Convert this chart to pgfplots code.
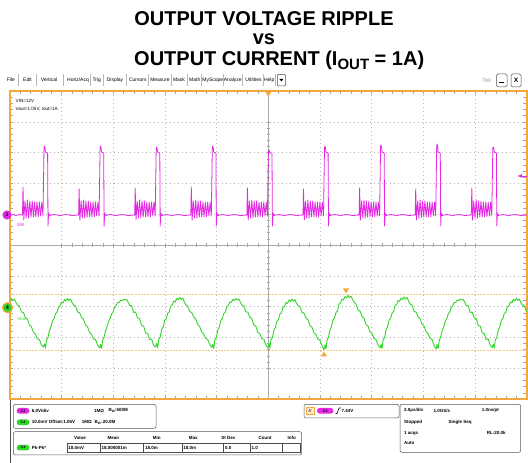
\documentclass[border=0pt]{standalone}
\usepackage{pgfplots}
\pgfplotsset{compat=1.18}
\usepackage{fontspec}
\setmainfont{Liberation Sans}
\definecolor{scmag}{RGB}{228,40,228}
\definecolor{scgrn}{RGB}{50,214,40}
\definecolor{scorg}{RGB}{242,168,60}
\definecolor{sccur}{RGB}{250,198,120}
\definecolor{scgray}{RGB}{150,150,150}
\newcommand{\scopefont}{\fontsize{5}{6}\selectfont}
\newcommand{\ttlfont}{\bfseries\fontsize{20}{22}\selectfont}
\begin{document}
\begin{tikzpicture}
\useasboundingbox (0,0) rectangle (528pt,463pt);
\fill[white] (0,0) rectangle (528pt,463pt);
% centre cross
\begin{axis}[at={(9.8pt,64pt)}, anchor=south west, width=517pt, height=308pt, scale only axis,
 xmin=-5,xmax=5,ymin=-5,ymax=5, axis lines=middle, axis line style={-, scgray!85, line width=0.5pt},
 xtick={-4,...,4}, ytick={-4,...,4}, minor x tick num=4, minor y tick num=4,
 xticklabels={}, yticklabels={}, tick align=center, major tick length=4.5pt, minor tick length=3.5pt,
 tick style={scgray!85, line width=0.5pt}]
\end{axis}
\begin{axis}[at={(9.8pt,64pt)}, anchor=south west, width=517pt, height=308pt, scale only axis,
 xmin=9.8, xmax=526.8, ymin=91, ymax=399, y dir=reverse,
 xtick={9.8,61.5,113.2,164.9,216.6,268.3,320,371.7,423.4,475.1,526.8},
 ytick={91,121.8,152.6,183.4,214.2,245,275.8,306.6,337.4,368.2,399},
 xticklabels={}, yticklabels={},
 minor x tick num=4, minor y tick num=4,
 xmajorgrids, ymajorgrids, major grid style={scgray!70, line width=0.5pt, dash pattern=on 0.6pt off 3.4pt},
 tick align=inside, major tick length=3.5pt, minor tick length=3.5pt, tick style={scgray!85, line width=0.45pt},
 axis line style={scorg, line width=1.6pt}, clip=true]
\addplot[sccur, line width=0.8pt, dash pattern=on 2pt off 1.2pt] coordinates {(9.8,294.3) (526.8,294.3)};
\addplot[sccur, line width=0.8pt, dash pattern=on 2pt off 1.2pt] coordinates {(9.8,350.3) (526.8,350.3)};
% Vout ripple (C4)
\addplot[scgrn, line width=0.9pt, line join=round] coordinates {
(10,300) (11.4,298.5) (12.9,300.5) (14.4,299) (15.9,302.5) (17.4,305) (19.4,306) (21.4,312) (23.4,312.5) (25.4,317.5) (27.4,319) (29.4,325) (31.4,326.5) (33.4,332.5) (35.4,334) (37.4,339) (39.4,339.5) (41.4,345)
(43.5,347) (44.5,344) (45.5,348) (46.5,340) (48,337.5) (49.5,330) (51,327) (52.5,320.5) (54,319) (55.5,313.5) (57,312.5) (58.5,307) (60,306) (61.5,302) (63,303) (64.5,299.5) (66,301) (67.5,298.5) (69,300.5) (70.5,299) (72,302.5) (73.5,305) (75.5,306) (77.5,312) (79.5,312.5) (81.5,317.5) (83.5,319) (85.5,325) (87.5,326.5) (89.5,332.5) (91.5,334) (93.5,339) (95.5,339.5) (97.5,345)
(99.6,348) (100.6,344.5) (101.6,348.5) (102.6,340.5) (104.1,337) (105.6,330.5) (107.1,326.5) (108.6,321.5) (110.1,318.5) (111.6,314) (113.1,312) (114.6,307.5) (116.1,305.5) (117.6,302.5) (119.1,302.5) (120.6,300.5) (122.1,300.5) (123.6,299.5) (125.1,300) (126.6,299.5) (128.1,302) (129.6,305.5) (131.6,305.5) (133.6,312.5) (135.6,312) (137.6,318) (139.6,318.5) (141.6,325.5) (143.6,326) (145.6,333) (147.6,333.5) (149.6,339.5) (151.6,339) (153.6,345.5)
(155.7,347) (156.7,343.5) (157.7,347.5) (158.7,339.5) (160.2,337) (161.7,329.5) (163.2,327) (164.7,320) (166.2,319) (167.7,313) (169.2,312) (170.7,306) (172.2,305) (173.7,301) (175.2,302) (176.7,298.5) (178.2,300) (179.7,297.5) (181.2,299.5) (182.7,298) (184.2,301.5) (185.7,304.5) (187.7,306) (189.7,311.5) (191.7,312.5) (193.7,317) (195.7,319) (197.7,324.5) (199.7,326.5) (201.7,332) (203.7,334) (205.7,338.5) (207.7,339.5) (209.7,344.5)
(211.8,347.5) (212.8,344) (213.8,348.5) (214.8,340) (216.3,337.5) (217.8,330) (219.3,327) (220.8,320.5) (222.3,318.5) (223.8,313.5) (225.3,312) (226.8,307) (228.3,305.5) (229.8,302) (231.3,302.5) (232.8,299.5) (234.3,300.5) (235.8,298.5) (237.3,300) (238.8,299) (240.3,302) (241.8,305) (243.8,305.5) (245.8,312) (247.8,312) (249.8,317.5) (251.8,318.5) (253.8,325) (255.8,326) (257.8,332.5) (259.8,333.5) (261.8,339) (263.8,339) (265.8,345)
(267.9,347.5) (268.9,344) (269.9,348) (270.9,340) (272.4,337.5) (273.9,330.5) (275.4,327.5) (276.9,321) (278.4,319.5) (279.9,314) (281.4,313) (282.9,307.5) (284.4,306.5) (285.9,302.5) (287.4,303.5) (288.9,300) (290.4,301.5) (291.9,299) (293.4,301) (294.9,299.5) (296.4,303) (297.9,305.5) (299.9,306.5) (301.9,312.5) (303.9,313) (305.9,318) (307.9,319.5) (309.9,325.5) (311.9,327) (313.9,333) (315.9,334.5) (317.9,339.5) (319.9,340) (321.9,345.5)
(324,349.5) (325,345) (326,349) (327,340.5) (328.5,337) (330,330) (331.5,326.5) (333,320) (334.5,318) (336,312.5) (337.5,311) (339,304) (340.5,303) (342,299) (343.5,300) (345,296.5) (346.5,298) (348,295.5) (349.5,297.5) (351,296) (352.5,299.5) (354,302) (356,304) (358,310) (360,311) (362,316.5) (364,318) (366,324.5) (368,326) (370,332) (372,333.5) (374,338.5) (376,339.5) (378,345)
(380.1,348) (381.1,344.5) (382.1,348.5) (383.1,340) (384.6,337.5) (386.1,330) (387.6,326.5) (389.1,320) (390.6,318.5) (392.1,313) (393.6,311.5) (395.1,305.5) (396.6,304.5) (398.1,300.5) (399.6,301.5) (401.1,298) (402.6,299.5) (404.1,297) (405.6,299) (407.1,297.5) (408.6,301) (410.1,304) (412.1,305) (414.1,311.5) (416.1,312) (418.1,317) (420.1,318.5) (422.1,324.5) (424.1,326) (426.1,332) (428.1,333.5) (430.1,338.5) (432.1,339.5) (434.1,345.5)
(436.2,349) (437.2,344.5) (438.2,348.5) (439.2,340.5) (440.7,337) (442.2,330.5) (443.7,327) (445.2,321) (446.7,319) (448.2,314) (449.7,312) (451.2,307.5) (452.7,305.5) (454.2,302.5) (455.7,302.5) (457.2,300) (458.7,300.5) (460.2,299) (461.7,300) (463.2,299.5) (464.7,302) (466.2,305.5) (468.2,305.5) (470.2,312.5) (472.2,312) (474.2,318) (476.2,318.5) (478.2,325.5) (480.2,326) (482.2,333) (484.2,333.5) (486.2,339.5) (488.2,339) (490.2,345.5)
(492.3,347.5) (493.3,344) (494.3,348) (495.3,340) (496.8,337.5) (498.3,330) (499.8,327) (501.3,320.5) (502.8,319) (504.3,313.5) (505.8,312.5) (507.3,307) (508.8,306) (510.3,302) (511.8,303) (513.3,299.5) (514.8,301) (516.3,298.5) (517.8,300.5) (519.3,299) (520.8,302.5) (522.3,305) (524.3,306) (526.3,311) (527,311.5)
};
% switch node (C3)
\addplot[scmag, line width=0.8pt, line join=round] coordinates {
(10,215) (13,214.5) (16,215.5) (19,214.6) (22.5,215)
(23.0,187) (23.8,220) (25.0,201) (26.2,218) (27.4,200) (28.6,218) (29.8,201) (31.0,217) (32.2,201) (33.4,217) (34.6,202) (35.8,217) (37.0,202) (38.2,217) (39.4,202) (40.6,216) (41.8,202) (43.0,216) (44.0,148) (44.4,146) (45.0,148) (45.4,152) (47.6,153) (48.0,226) (48.6,213) (49.6,215.5) (54,214.5) (60,215.5) (66,214.5) (72,215.5)
(78.6,215) (79.1,189) (79.9,220) (81.1,201) (82.3,218) (83.5,200) (84.7,218) (85.9,201) (87.1,217) (88.3,201) (89.5,217) (90.7,202) (91.9,217) (93.1,202) (94.3,217) (95.5,202) (96.7,216) (97.9,202) (99.1,216) (100.1,148) (100.5,146) (101.1,148) (101.5,152) (103.7,153) (104.1,226) (104.7,213) (105.7,215.5) (110.1,214.5) (116.1,215.5) (122.1,214.5) (128.1,215.5)
(134.7,215) (135.2,188) (136.0,220) (137.2,201) (138.4,218) (139.6,200) (140.8,218) (142.0,201) (143.2,217) (144.4,201) (145.6,217) (146.8,202) (148.0,217) (149.2,202) (150.4,217) (151.6,202) (152.8,216) (154.0,202) (155.2,216) (156.2,149) (156.6,147) (157.2,149) (157.6,152) (159.8,153) (160.2,226) (160.8,213) (161.8,215.5) (166.2,214.5) (172.2,215.5) (178.2,214.5) (184.2,215.5)
(190.8,215) (191.3,187) (192.1,220) (193.3,201) (194.5,218) (195.7,200) (196.9,218) (198.1,201) (199.3,217) (200.5,201) (201.7,217) (202.9,202) (204.1,217) (205.3,202) (206.5,217) (207.7,202) (208.9,216) (210.1,202) (211.3,216) (212.3,148) (212.7,146) (213.3,148) (213.7,152) (215.9,153) (216.3,226) (216.9,213) (217.9,215.5) (222.3,214.5) (228.3,215.5) (234.3,214.5) (240.3,215.5)
(246.9,215) (247.4,188) (248.2,220) (249.4,201) (250.6,218) (251.8,200) (253.0,218) (254.2,201) (255.4,217) (256.6,201) (257.8,217) (259.0,202) (260.2,217) (261.4,202) (262.6,217) (263.8,202) (265.0,216) (266.2,202) (267.4,216) (268.4,151) (268.8,150) (269.4,151) (269.8,153) (272.0,153) (272.4,226) (273.0,213) (274.0,215.5) (278.4,214.5) (284.4,215.5) (290.4,214.5) (296.4,215.5)
(303.0,215) (303.5,189) (304.3,220) (305.5,201) (306.7,218) (307.9,200) (309.1,218) (310.3,201) (311.5,217) (312.7,201) (313.9,217) (315.1,202) (316.3,217) (317.5,202) (318.7,217) (319.9,202) (321.1,216) (322.3,202) (323.5,216) (324.5,148) (324.9,146) (325.5,148) (325.9,152) (328.1,153) (328.5,226) (329.1,213) (330.1,215.5) (334.5,214.5) (340.5,215.5) (346.5,214.5) (352.5,215.5)
(359.1,215) (359.6,188) (360.4,220) (361.6,201) (362.8,218) (364.0,200) (365.2,218) (366.4,201) (367.6,217) (368.8,201) (370.0,217) (371.2,202) (372.4,217) (373.6,202) (374.8,217) (376.0,202) (377.2,216) (378.4,202) (379.6,216) (380.6,146) (381.0,145) (381.6,147) (382.0,152) (384.2,153) (384.6,226) (385.2,213) (386.2,215.5) (390.6,214.5) (396.6,215.5) (402.6,214.5) (408.6,215.5)
(415.2,215) (415.7,189) (416.5,220) (417.7,201) (418.9,218) (420.1,200) (421.3,218) (422.5,201) (423.7,217) (424.9,201) (426.1,217) (427.3,202) (428.5,217) (429.7,202) (430.9,217) (432.1,202) (433.3,216) (434.5,202) (435.7,216) (436.7,146) (437.1,144) (437.7,146) (438.1,152) (440.3,153) (440.7,226) (441.3,213) (442.3,215.5) (446.7,214.5) (452.7,215.5) (458.7,214.5) (464.7,215.5)
(471.3,215) (471.8,188) (472.6,220) (473.8,201) (475.0,218) (476.2,200) (477.4,218) (478.6,201) (479.8,217) (481.0,201) (482.2,217) (483.4,202) (484.6,217) (485.8,202) (487.0,217) (488.2,202) (489.4,216) (490.6,202) (491.8,216) (492.8,148) (493.2,147) (493.8,148) (494.2,152) (496.4,153) (496.8,226) (497.4,213) (498.4,215.5) (502.8,214.5) (508.8,215.5) (514.8,214.5) (520.8,215.5) (527,215)
};
\end{axis}
\begin{scope}[x=1pt,y=-1pt,yshift=463pt]
% title
\node[font=\ttlfont, anchor=base, inner sep=0pt] at (264,26) {OUTPUT VOLTAGE RIPPLE};
\node[font=\ttlfont, anchor=base, inner sep=0pt] at (264,44.5) {vs};
\node[font=\ttlfont, anchor=base west, inner sep=0pt] at (134,65.5) {OUTPUT CURRENT (I\raisebox{-4pt}{\fontsize{15}{16}\selectfont OUT} = 1A)};
% menu bar
\begin{scope}[every node/.style={font=\scopefont, inner sep=0pt}]
\node at (10.8,80) {File};
\node at (27.5,80) {Edit};
\node at (49,80) {Vertical};
\node at (78,80) {Horiz/Acq};
\node at (96.8,80) {Trig};
\node at (115,80) {Display};
\node at (137.8,80) {Cursors};
\node at (160,80) {Measure};
\node at (179,80) {Mask};
\node at (194.8,80) {Math};
\node at (212.8,80) {MyScope};
\node at (232.8,80) {Analyze};
\node at (253.5,80) {Utilities};
\node at (269.2,80) {Help};
\node[text=gray!70] at (486.7,80.5) {\fontsize{6}{7}\selectfont Tek};
\end{scope}
\foreach \xx in {18.3,36.7,63.3,90,103.3,126.7,148.3,171,187.3,201.7,223.3,242.7,263.3,275.5}
  \draw[gray!55, line width=0.5pt] (\xx,74.5)--(\xx,86);
\draw[gray!60!black, line width=0.5pt, rounded corners=1pt] (277.3,74.5) rectangle (285.5,86);
\fill (279.3,78.8)--(283.5,78.8)--(281.4,81.4)--cycle;
\draw[gray!60!black, line width=0.5pt, rounded corners=1.5pt] (496.5,74) rectangle (507,87);
\draw[line width=0.9pt] (499.3,82.5)--(504.2,82.5);
\draw[gray!60!black, line width=0.5pt, rounded corners=1.5pt] (511,74) rectangle (521,87);
\node[font=\bfseries\fontsize{6.5}{7}\selectfont, inner sep=0pt] at (516,80.5) {X};
% annotations inside graticule
\node[anchor=west, font=\fontsize{4.6}{5}\selectfont, inner sep=0pt] at (15.5,100.7) {VIN=12V};
\node[anchor=west, font=\fontsize{4.6}{5}\selectfont, inner sep=0pt] at (15.5,108.7) {Vout=1.05V, Iout=1A};
\fill[scorg] (265,91.5)--(271.6,91.5)--(268.3,96.5)--cycle;
\fill[scorg] (343,288.5)--(349,288.5)--(346,293.5)--cycle;
\fill[scorg] (321,356.5)--(327,356.5)--(324,351.5)--cycle;
\draw[scmag, line width=0.8pt, -latex] (527,176)--(517,176);
\fill[scmag] (7,215) circle (4.6);
\node[font=\bfseries\fontsize{5}{5}\selectfont, text=black!70!blue, inner sep=0pt] at (7,215) {3};
\filldraw[fill=scgrn, draw=scorg, line width=1.1pt] (7.5,307.7) circle (5);
\node[font=\bfseries\fontsize{5.5}{5}\selectfont, inner sep=0pt] at (7.5,307.7) {4};
\node[scmag, font=\fontsize{4.5}{5}\selectfont, inner sep=0pt] at (20.5,224.8) {SW};
\node[scgrn, font=\fontsize{4.5}{5}\selectfont, inner sep=0pt] at (22,318.5) {Vout};
% bottom frame
\draw[gray!60!black, line width=0.8pt] (10.5,400.5)--(10.5,463);
% panel boxes
\begin{scope}[every node/.style={font=\bfseries\fontsize{4.5}{5}\selectfont, inner sep=0pt, anchor=west}]
\draw[gray!70!black, line width=0.5pt, rounded corners=2pt] (13.3,404.3) rectangle (156,428.3);
\fill[scmag, rounded corners=2.6pt] (16.7,408) rectangle (29.3,413.6);
\node[anchor=center, font=\bfseries\fontsize{3.6}{4}\selectfont] at (23,410.8) {C3};
\node at (31.7,410.8) {6.0V/div};
\node at (94,410.8) {1MΩ};
\node at (108.3,410.8) {B\textsubscript{W}:500M};
\fill[scgrn, rounded corners=2.6pt] (16.7,419.5) rectangle (29.3,425.1);
\node[anchor=center, font=\bfseries\fontsize{3.6}{4}\selectfont] at (23,422.3) {C4};
\node at (31.7,422.3) {10.0mV Offset:1.05V};
\node at (81.7,422.3) {1MΩ};
\node at (94.5,422.3) {B\textsubscript{W}:20.0M};
\draw[gray!70!black, line width=0.5pt, rounded corners=2pt] (13.3,431.7) rectangle (301.7,455);
\node[anchor=center] at (80,438.3) {Value};
\node[anchor=center] at (113.3,438.3) {Mean};
\node[anchor=center] at (156.7,438.3) {Min};
\node[anchor=center] at (193.3,438.3) {Max};
\node[anchor=center] at (228.3,438.3) {St Dev};
\node[anchor=center] at (265,438.3) {Count};
\node[anchor=center] at (291.7,438.3) {Info};
\fill[scgrn, rounded corners=2.6pt] (16.7,444.9) rectangle (29.3,450.5);
\node[anchor=center, font=\bfseries\fontsize{3.6}{4}\selectfont] at (23,447.7) {C4};
\node at (31.7,447.7) {Pk-Pk*};
\foreach \a/\b in {66.7/100,100/143.3,143.3/181.7,181.7/223.3,223.3/250,250/281.7,281.7/300}
  \draw[gray!60!black, line width=0.4pt] (\a,443.3) rectangle (\b,452.2);
\node at (68.2,447.7) {18.0mV};
\node at (101.5,447.7) {18.000001m};
\node at (144.8,447.7) {18.0m};
\node at (183.2,447.7) {18.0m};
\node at (224.8,447.7) {0.0};
\node at (251.5,447.7) {1.0};
\draw[gray!70!black, line width=0.5pt, rounded corners=2pt] (304,404.3) rectangle (399,418);
\filldraw[fill=scorg!25, draw=scorg, line width=0.4pt] (306.3,407.5) rectangle (314,414);
\node[anchor=center, font=\fontsize{4.2}{5}\selectfont] at (310.1,410.8) {A'};
\fill[scmag, rounded corners=2.6pt] (317,408) rectangle (333.3,413.6);
\node[anchor=center, font=\bfseries\fontsize{3.6}{4}\selectfont] at (325.2,410.8) {C3};
\draw[line width=0.6pt] (335.5,413.5)--(337,413.5)--(339,408)--(340.5,408);
\node at (341.5,410.8) {7.44V};
\draw[gray!70!black, line width=0.5pt, rounded corners=2pt] (400,404.3) rectangle (520.7,452.3);
\node at (404,410.8) {2.0µs/div};
\node at (433.3,410.8) {1.0GS/s};
\node at (481.7,410.8) {1.0ns/pt};
\node at (404,422.3) {Stopped};
\node at (448.3,422.3) {Single Seq};
\node at (404,433.3) {1 acqs};
\node at (486.7,433.3) {RL:20.0k};
\node at (404,443.3) {Auto};
\end{scope}
\end{scope}
\end{tikzpicture}
\end{document}
